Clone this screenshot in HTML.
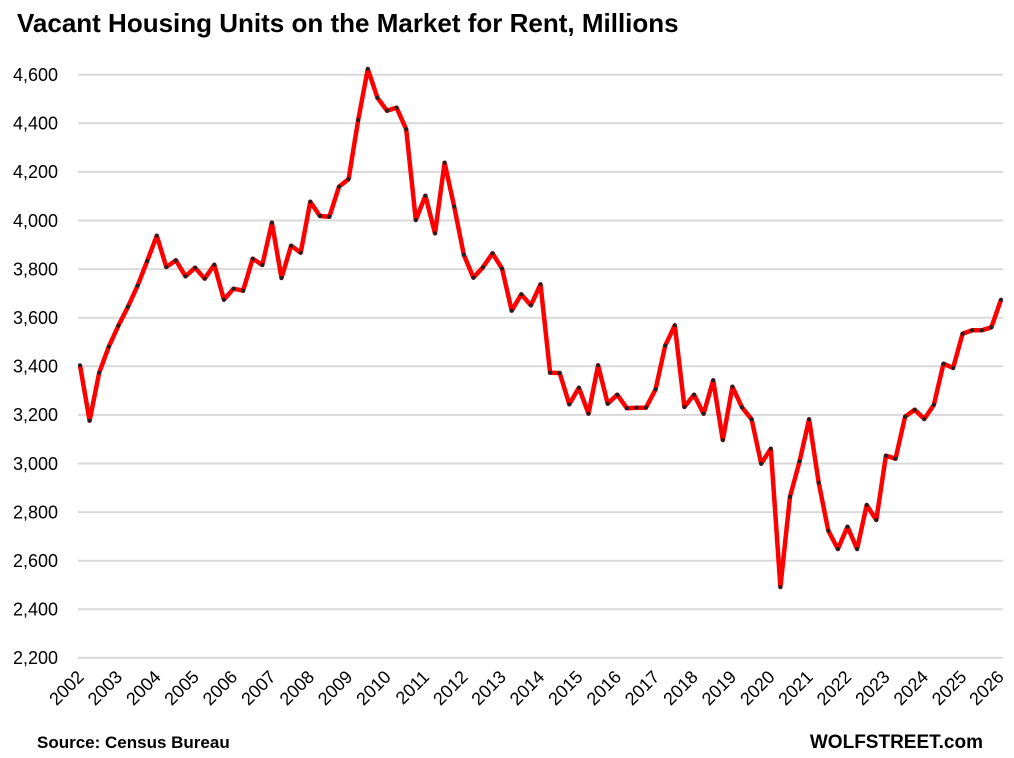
<!DOCTYPE html>
<html><head><meta charset="utf-8"><style>
body{margin:0;background:#fff;}
svg{display:block;font-family:"Liberation Sans",Arial,sans-serif;}
</style></head><body>
<svg width="1014" height="758" viewBox="0 0 1014 758" xmlns="http://www.w3.org/2000/svg">
<defs>
<marker id="m" markerUnits="userSpaceOnUse" markerWidth="6" markerHeight="6" refX="3" refY="3"><circle cx="3" cy="3" r="2.1" fill="#222"/></marker>
</defs>
<rect width="1014" height="758" fill="#fff"/>
<text x="17" y="32" font-size="26" font-weight="bold" fill="#000">Vacant Housing Units on the Market for Rent, Millions</text>
<g stroke="#d9d9d9" stroke-width="2">
<line x1="78" x2="1003" y1="74.7" y2="74.7"/>
<line x1="78" x2="1003" y1="123.3" y2="123.3"/>
<line x1="78" x2="1003" y1="171.9" y2="171.9"/>
<line x1="78" x2="1003" y1="220.5" y2="220.5"/>
<line x1="78" x2="1003" y1="269.1" y2="269.1"/>
<line x1="78" x2="1003" y1="317.7" y2="317.7"/>
<line x1="78" x2="1003" y1="366.3" y2="366.3"/>
<line x1="78" x2="1003" y1="414.9" y2="414.9"/>
<line x1="78" x2="1003" y1="463.5" y2="463.5"/>
<line x1="78" x2="1003" y1="512.1" y2="512.1"/>
<line x1="78" x2="1003" y1="560.7" y2="560.7"/>
<line x1="78" x2="1003" y1="609.3" y2="609.3"/>
<line x1="78" x2="1003" y1="657.9" y2="657.9"/>
</g>
<g font-size="18" fill="#000" text-anchor="end">
<text x="58" y="81">4,600</text>
<text x="58" y="129.6">4,400</text>
<text x="58" y="178.2">4,200</text>
<text x="58" y="226.8">4,000</text>
<text x="58" y="275.4">3,800</text>
<text x="58" y="324">3,600</text>
<text x="58" y="372.6">3,400</text>
<text x="58" y="421.2">3,200</text>
<text x="58" y="469.8">3,000</text>
<text x="58" y="518.4">2,800</text>
<text x="58" y="567">2,600</text>
<text x="58" y="615.6">2,400</text>
<text x="58" y="664.2">2,200</text>
</g>
<g font-size="18" fill="#000" text-anchor="end">
<text x="85" y="678" transform="rotate(-45 85 678)">2002</text>
<text x="123.4" y="678" transform="rotate(-45 123.4 678)">2003</text>
<text x="161.8" y="678" transform="rotate(-45 161.8 678)">2004</text>
<text x="200.1" y="678" transform="rotate(-45 200.1 678)">2005</text>
<text x="238.5" y="678" transform="rotate(-45 238.5 678)">2006</text>
<text x="276.9" y="678" transform="rotate(-45 276.9 678)">2007</text>
<text x="315.3" y="678" transform="rotate(-45 315.3 678)">2008</text>
<text x="353.6" y="678" transform="rotate(-45 353.6 678)">2009</text>
<text x="392" y="678" transform="rotate(-45 392 678)">2010</text>
<text x="430.4" y="678" transform="rotate(-45 430.4 678)">2011</text>
<text x="468.8" y="678" transform="rotate(-45 468.8 678)">2012</text>
<text x="507.1" y="678" transform="rotate(-45 507.1 678)">2013</text>
<text x="545.5" y="678" transform="rotate(-45 545.5 678)">2014</text>
<text x="583.9" y="678" transform="rotate(-45 583.9 678)">2015</text>
<text x="622.3" y="678" transform="rotate(-45 622.3 678)">2016</text>
<text x="660.6" y="678" transform="rotate(-45 660.6 678)">2017</text>
<text x="699" y="678" transform="rotate(-45 699 678)">2018</text>
<text x="737.4" y="678" transform="rotate(-45 737.4 678)">2019</text>
<text x="775.8" y="678" transform="rotate(-45 775.8 678)">2020</text>
<text x="814.1" y="678" transform="rotate(-45 814.1 678)">2021</text>
<text x="852.5" y="678" transform="rotate(-45 852.5 678)">2022</text>
<text x="890.9" y="678" transform="rotate(-45 890.9 678)">2023</text>
<text x="929.3" y="678" transform="rotate(-45 929.3 678)">2024</text>
<text x="967.6" y="678" transform="rotate(-45 967.6 678)">2025</text>
<text x="1005" y="678" transform="rotate(-45 1005 678)">2026</text>
</g>
<polyline fill="none" stroke="#ff0000" stroke-width="4.5" stroke-linejoin="round" marker-start="url(#m)" marker-mid="url(#m)" marker-end="url(#m)" points="80,365.3 89.6,420.7 99.2,372.7 108.8,346.7 118.4,325.7 128,306.7 137.6,285.7 147.2,261 156.8,235.7 166.3,267 175.9,260.3 185.5,276.3 195.1,267.7 204.7,278.7 214.3,264.7 223.9,299.7 233.5,288.7 243.1,290.7 252.7,258.7 262.3,265 271.9,222.7 281.5,278 291.1,245.7 300.7,252.7 310.3,201.7 319.9,216 329.4,216.7 339,186.7 348.6,179 358.2,120 367.8,69 377.4,97.7 387,110.7 396.6,107.7 406.2,129.3 415.8,220 425.4,195.7 435,233.3 444.6,162.7 454.2,206.7 463.8,254.7 473.4,277.7 482.9,267.3 492.5,253.3 502.1,268.7 511.7,310.7 521.3,294.3 530.9,305.3 540.5,284.3 550.1,372.7 559.7,373 569.3,404.3 578.9,387.7 588.5,413.7 598.1,365.3 607.7,403.7 617.3,394.7 626.9,408.3 636.5,407.7 646,407.7 655.6,389.3 665.2,345.7 674.8,325.3 684.4,407 694,394.7 703.6,413.7 713.2,380.3 722.8,440 732.4,386.7 742,407.3 751.6,419.3 761.2,463.7 770.8,448.7 780.4,587 790,496.7 799.6,461.3 809.1,419.3 818.7,482.7 828.3,530.7 837.9,549 847.5,526.7 857.1,549 866.7,505 876.3,520 885.9,455.7 895.5,458.7 905.1,416.7 914.7,409.7 924.3,419 933.9,404.7 943.5,363.7 953.1,368 962.6,333.7 972.2,330.3 981.8,330.3 991.4,327.3 1001,299.7"/>
<text x="37" y="748" font-size="17" font-weight="bold" fill="#000">Source: Census Bureau</text>
<text x="983" y="748" font-size="19" font-weight="bold" fill="#000" text-anchor="end">WOLFSTREET.com</text>
</svg>
</body></html>
